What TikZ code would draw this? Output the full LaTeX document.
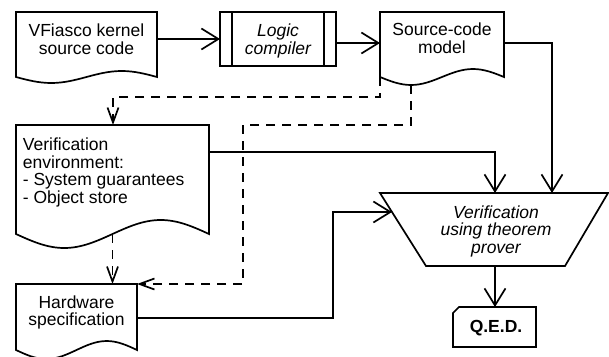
\documentclass[tikz,border=0pt]{standalone}
\usepackage{fontspec}
\setmainfont{Liberation Sans}
\usetikzlibrary{arrows.meta}
\begin{document}
\begin{tikzpicture}[x=1pt,y=-1pt, line width=1.7pt, line join=miter,
  txt/.style={font=\fontsize{17.5}{17.5}\selectfont, inner sep=0pt, align=center},
  outline/.style={draw=black, fill=white},
  flow/.style={-{Straight Barb[length=17pt,width=21pt]}},
  dflow/.style={dash pattern=on 9pt off 7pt, -{Straight Barb[length=15pt,width=11pt]}},
]
\useasboundingbox (0,0) rectangle (609,356);

% ---- shapes ----
% VFiasco kernel source code (document)
\draw[outline] (157,77) -- (157,12) -- (16,12) -- (16,77)
  sin (51.25,83) cos (86.5,77) sin (121.75,71) cos (157,77) -- cycle;
% Logic compiler (predefined process)
\draw[outline] (220,12) rectangle (336,66);
\draw (232,12) -- (232,66) (324,12) -- (324,66);
% Source-code model (document)
\draw[outline] (504,77) -- (504,12) -- (380,12) -- (380,77)
  sin (411,85) cos (442,77) sin (473,69) cos (504,77) -- cycle;
% Verification environment (document)
\draw[outline] (209,234) -- (209,125) -- (16,125) -- (16,234)
  sin (64.25,248) cos (112.5,234) sin (160.75,220) cos (209,234) -- cycle;
% Hardware specification (document)
\draw[outline] (137,350) -- (137,284) -- (16,284) -- (16,350)
  sin (46.25,359) cos (76.5,350) sin (106.75,341) cos (137,350) -- cycle;
% Theorem prover (manual operation trapezoid)
\draw[outline] (380,193) -- (608,193) -- (565,266) -- (426,266) -- cycle;
% Q.E.D. (card)
\draw[outline] (459,307) -- (536,307) -- (536,347) -- (453,347) -- (453,313) -- cycle;

% ---- texts ----
\node[txt] (vf) at (86.5,39) {VFiasco kernel\\source code};
\node[txt, font=\fontsize{17.5}{17.5}\selectfont\itshape] (lc) at (278,41) {Logic\\compiler};
\node[txt] (sc) at (442,38) {Source-code\\model};
\node[txt, align=left, anchor=north west] (ve) at (22,137) {Verification\\environment:\\- System guarantees\\- Object store};
\node[txt] (hw) at (76.5,312.5) {Hardware\\specification};
\node[txt, font=\fontsize{17.5}{17.5}\selectfont\itshape] (tp) at (496,231) {Verification\\using theorem\\prover};
\node[txt, font=\fontsize{17.5}{17.5}\selectfont\bfseries] (qed) at (496,328) {Q.E.D.};

% ---- connector end points ----
\coordinate (vf-e) at (157,39);
\coordinate (lc-w) at (220,39);
\coordinate (lc-e) at (336,43);
\coordinate (sc-w) at (380,43);
\coordinate (sc-e) at (504,43);
\coordinate (sc-sw) at (380,77);
\coordinate (sc-s) at (411,85);
\coordinate (tp-n1) at (552,193);
\coordinate (tp-n2) at (495,193);
\coordinate (tp-w) at (392,212);
\coordinate (tp-s) at (495,266);
\coordinate (qed-n) at (495,307);
\coordinate (ve-n) at (113,125);
\coordinate (ve-e) at (209,152);
\coordinate (ve-s) at (112.5,234);
\coordinate (hw-n) at (112.5,284);
\coordinate (hw-ne) at (137,284);
\coordinate (hw-e) at (137,318);

% ---- connectors ----
\draw[flow] (vf-e) -- (lc-w);
\draw[flow] (lc-e) -- (sc-w);
\draw[flow] (sc-e) -| (tp-n1);
\draw[flow] (ve-e) -| (tp-n2);
\draw[flow] (hw-e) -- (333,318) |- (tp-w);
\draw[flow] (tp-s) -- (qed-n);
\draw[dflow] (sc-sw) -- (380,97) -| (ve-n);
\draw[dflow] (sc-s) -- (411,125) -- (243,125) |- (hw-ne);
\draw[dflow] (ve-s) -- (hw-n);
\end{tikzpicture}
\end{document}
